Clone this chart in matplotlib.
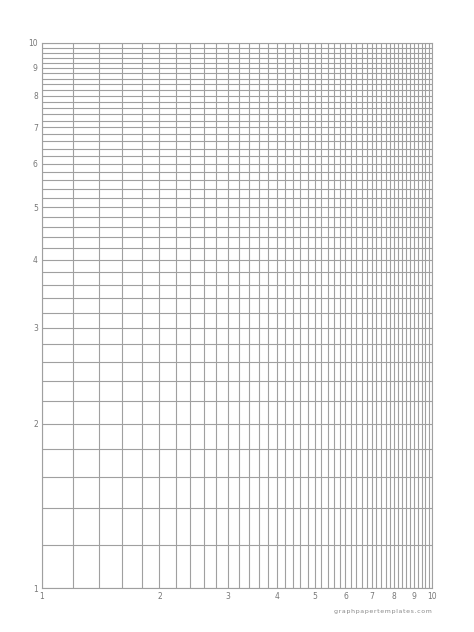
import numpy as np
import matplotlib
matplotlib.use("Agg")
import matplotlib.pyplot as plt

major = [1, 2, 3, 4, 5, 6, 7, 8, 9, 10]
labels = ["1", "2", "3", "4", "5", "6", "7", "8", "9", "10"]
step = 0.2
grid_vals = np.round(np.arange(1, 10 + step / 2, step), 2)

fig = plt.figure(figsize=(4.74, 6.32), dpi=100)
ax = fig.add_axes([42 / 474, 1 - 588 / 632, 390 / 474, 545 / 632])
ax.set_xscale("log")
ax.set_yscale("log")
ax.set_xlim(1, 10)
ax.set_ylim(1, 10)
for v in grid_vals:
    ax.axvline(v, color="#a0a0a0", lw=0.8)
    ax.axhline(v, color="#a0a0a0", lw=0.8)
for s in ax.spines.values():
    s.set_color("#a0a0a0")
    s.set_linewidth(0.8)
ax.set_xticks(major)
ax.set_xticklabels(labels)
ax.set_yticks(major)
ax.set_yticklabels(labels)
ax.minorticks_off()
ax.tick_params(length=0, labelsize=5.5, colors="#777777", pad=3)
fig.text(432 / 474, 1 - 612 / 632, "\u200a".join("graphpapertemplates.com"), ha="right", va="center",
         fontsize=4.5, color="#888888")
fig.savefig("out.png", dpi=100)
